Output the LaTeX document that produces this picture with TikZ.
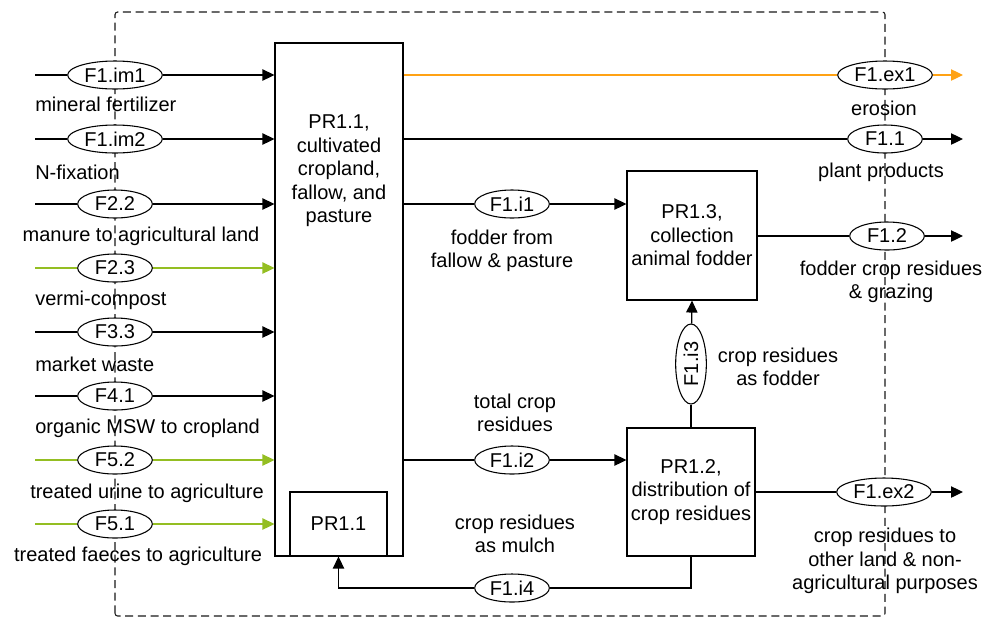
\documentclass[tikz,border=0pt]{standalone}
\usepackage{fontspec}
\setmainfont{Liberation Sans}
\usetikzlibrary{shapes.geometric,arrows.meta,positioning}
\definecolor{flowgreen}{RGB}{148,190,34}
\definecolor{flowgold}{RGB}{255,162,20}
\tikzset{
  flow/.style={ellipse, draw, fill=white, line width=0.8pt, inner sep=0pt, minimum width=56pt, minimum height=21pt},
  wideflow/.style={flow, minimum width=71pt},
  proc/.style={draw, line width=0.8pt, align=center, inner sep=1pt},
  lnk/.style={line width=0.9pt},
  arr/.style={lnk, -{Triangle[length=9pt,width=8.5pt]}},
  lbl/.style={align=center, inner sep=0pt}
}
\begin{document}
\begin{tikzpicture}[x=0.75pt, y=-0.75pt, font=\fontsize{15}{17.6}\selectfont]
\useasboundingbox (0,0) rectangle (984,619);

% system boundary
\draw[dash pattern=on 6pt off 3.5pt, rounded corners=2pt, line width=0.8pt, black!90]
  (115,616) -- (115,12) -- (885,12) -- (885,616) -- cycle;

% processes
\node[proc, minimum width=96pt, minimum height=384.75pt] (pr11) at (339,299.5) {};
\node[lbl] (pr11txt) at (339,171) {PR1.1,\\cultivated\\cropland,\\fallow, and\\pasture};
\node[proc, minimum width=72.75pt, minimum height=48pt] (pr11in) at (338.5,524) {PR1.1};
\node[proc, minimum width=97.5pt, minimum height=96.75pt] (pr13) at (692,235.5) {PR1.3,\\collection\\animal fodder};
\node[proc, minimum width=96pt, minimum height=96pt] (pr12) at (691,492) {PR1.2,\\distribution of\\crop residues};

% imports into PR1.1
\coordinate (im1s) at (35,75);
\node[wideflow] (im1) at (115,75) {F1.im1};
\draw[lnk] (im1s) -- (im1);
\draw[arr] (im1) -- (im1 -| pr11.west);
\node[lbl, anchor=west] (im1l) at (35,104) {mineral fertilizer};

\coordinate (im2s) at (35,139);
\node[wideflow] (im2) at (115,139) {F1.im2};
\draw[lnk] (im2s) -- (im2);
\draw[arr] (im2) -- (im2 -| pr11.west);
\node[lbl, anchor=west] (im2l) at (35,172) {N-fixation};

\coordinate (f22s) at (35,204);
\node[flow] (f22) at (115,204) {F2.2};
\draw[lnk] (f22s) -- (f22);
\draw[arr] (f22) -- (f22 -| pr11.west);
\node[lbl] (f22l) at (141,236) {manure to agricultural land};

\coordinate (f23s) at (35,268);
\node[flow] (f23) at (115,268) {F2.3};
\draw[lnk, flowgreen] (f23s) -- (f23);
\draw[arr, flowgreen] (f23) -- (f23 -| pr11.west);
\node[lbl, anchor=west] (f23l) at (35,300) {vermi-compost};

\coordinate (f33s) at (35,332);
\node[flow] (f33) at (115,332) {F3.3};
\draw[lnk] (f33s) -- (f33);
\draw[arr] (f33) -- (f33 -| pr11.west);
\node[lbl, anchor=west] (f33l) at (35,364) {market waste};

\coordinate (f41s) at (35,396);
\node[flow] (f41) at (115,396) {F4.1};
\draw[lnk] (f41s) -- (f41);
\draw[arr] (f41) -- (f41 -| pr11.west);
\node[lbl, anchor=west] (f41l) at (35,428) {organic MSW to cropland};

\coordinate (f52s) at (35,460);
\node[flow] (f52) at (115,460) {F5.2};
\draw[lnk, flowgreen] (f52s) -- (f52);
\draw[arr, flowgreen] (f52) -- (f52 -| pr11.west);
\node[lbl] (f52l) at (147,493) {treated urine to agriculture};

\coordinate (f51s) at (35,524);
\node[flow] (f51) at (115,524) {F5.1};
\draw[lnk, flowgreen] (f51s) -- (f51);
\draw[arr, flowgreen] (f51) -- (f51 -| pr11.west);
\node[lbl] (f51l) at (138,556) {treated faeces to agriculture};

% exports
\node[wideflow] (ex1) at (885,75) {F1.ex1};
\coordinate (ex1e) at (963,75);
\draw[lnk, flowgold] (pr11.east |- ex1) -- (ex1);
\draw[arr, flowgold] (ex1) -- (ex1e);
\node[lbl] (ex1l) at (884,108) {erosion};

\node[flow] (f11) at (885,139) {F1.1};
\coordinate (f11e) at (963,139);
\draw[lnk] (pr11.east |- f11) -- (f11);
\draw[arr] (f11) -- (f11e);
\node[lbl] (f11l) at (881,172) {plant products};

\node[flow] (f12) at (887,236) {F1.2};
\coordinate (f12e) at (963,236);
\draw[lnk] (pr13.east |- f12) -- (f12);
\draw[arr] (f12) -- (f12e);
\node[lbl] (f12l) at (891,282) {fodder crop residues\\\& grazing};

\node[wideflow] (ex2) at (884,492) {F1.ex2};
\coordinate (ex2e) at (963,492);
\draw[lnk] (pr12.east) -- (ex2);
\draw[arr] (ex2) -- (ex2e);
\node[lbl] (ex2l) at (885,561) {crop residues to\\other land \& non-\\agricultural purposes};

% internal flows
\node[flow] (i1) at (512,204) {F1.i1};
\draw[lnk] (pr11.east |- i1) -- (i1);
\draw[arr] (i1) -- (i1 -| pr13.west);
\node[lbl] (i1l) at (502,251) {fodder from\\fallow \& pasture};

\node[flow] (i2) at (512,460) {F1.i2};
\draw[lnk] (pr11.east |- i2) -- (i2);
\draw[arr] (i2) -- (i2 -| pr12.west);
\node[lbl] (i2l) at (515,413) {total crop\\residues};

\node[flow, rotate=90, minimum width=60pt, minimum height=23pt] (i3) at (691,364) {F1.i3};
\draw[lnk] (pr12.north) -- (i3);
\draw[arr] (i3) -- (pr13.south);
\node[lbl] (i3l) at (778,367) {crop residues\\as fodder};

\node[flow] (i4) at (512,588) {F1.i4};
\draw[lnk] (pr12.south) |- (i4);
\draw[arr] (i4) -| (pr11in.south);
\node[lbl] (i4l) at (515,534) {crop residues\\as mulch};
\end{tikzpicture}
\end{document}
